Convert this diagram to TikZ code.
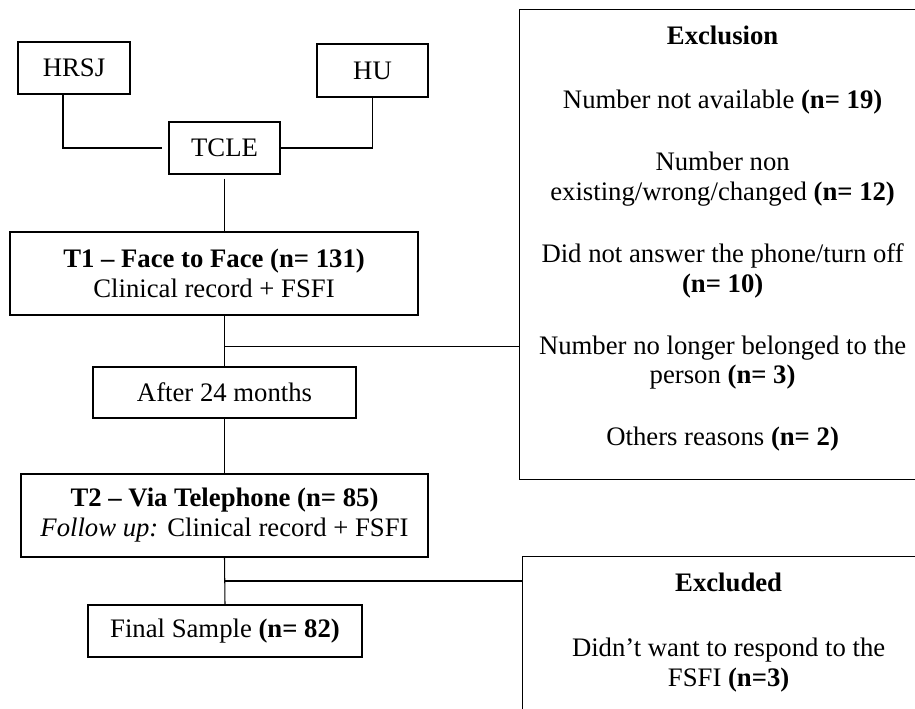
\documentclass[tikz,border=0pt]{standalone}
\usepackage{fontspec}
\setmainfont{Liberation Serif}
\usetikzlibrary{positioning}

\begin{document}
\begin{tikzpicture}[x=0.02cm, y=-0.02cm,
            every node/.style={font=\fontsize{15.2}{17}\selectfont},
            box/.style={draw, line width=0.75pt, inner sep=0pt, align=center},
            step box/.style={box, minimum height=1.04cm},
            side box/.style={box, anchor=north west},
            side text/.style={inner sep=0pt, align=center},
            link/.style={line width=0.6pt}]

            \useasboundingbox (0,0) rectangle (915,709);
            \clip (0,0) rectangle (915,709);

            % Sites and consent
            \node[step box, minimum width=2.24cm] (hrsj) at (74,68) {HRSJ};
            \node[step box, minimum width=2.22cm, minimum height=1.06cm] (hu) at (372.5,70.5) {HU};
            \node[step box, minimum width=2.22cm] (tcle) at (224.5,148) {TCLE};

            % Main flow
            \node[box, minimum width=8.16cm, minimum height=1.66cm] (t1) at (214,273.5)
                {\textbf{T1 -- Face to Face (n= 131)}\\Clinical record + FSFI};
            \node[step box, minimum width=5.26cm, minimum height=1.02cm] (wait24) at (224.5,392.5)
                {After 24 months};
            \node[box, minimum width=8.14cm, minimum height=1.66cm] (t2) at (224.5,515.5)
                {\textbf{T2 -- Via Telephone (n= 85)}\\\textit{Follow up:} Clinical record + FSFI};
            \node[step box, minimum width=5.48cm] (final) at (225,631)
                {Final Sample \textbf{(n= 82)}};

            % Exclusion boxes
            \node[side box, minimum width=8.12cm, minimum height=9.4cm] (exclusion) at (519,9) {};
            \node[side text, below=0.34cm of exclusion.north] (exclusion text) {%
                \textbf{Exclusion}\\[0.68cm]
                Number not available \textbf{(n= 19)}\\[0.64cm]
                Number non\\existing/wrong/changed \textbf{(n= 12)}\\[0.64cm]
                Did not answer the phone/turn off\\\textbf{(n= 10)}\\[0.64cm]
                Number no longer belonged to the\\person \textbf{(n= 3)}\\[0.64cm]
                Others reasons \textbf{(n= 2)}};
            \node[side box, minimum width=8.24cm, minimum height=4cm] (excluded) at (522,556) {};
            \node[side text, below=0.34cm of excluded.north] (excluded text) {%
                \textbf{Excluded}\\[0.7cm]
                Didn't want to respond to the\\FSFI \textbf{(n=3)}};

            % Connectors
            \draw[link] ([xshift=-0.22cm]hrsj.south) |- ([xshift=-0.12cm]tcle.west);
            \draw[link] (hu.south) |- (tcle.east);
            \draw[link] ([yshift=-0.08cm]tcle.south) -- (t1.north -| tcle.south);
            \draw[link] (t1.south -| wait24.north) -- (wait24.north) coordinate[pos=0.6] (split1);
            \draw[link] (split1) -- (split1 -| exclusion.west);
            \draw[link] (wait24.south) -- (wait24.south |- t2.north);
            \draw[link] (t2.south) -- (final.north) coordinate[pos=0.5] (split2);
            \draw[link] (split2) -- (split2 -| excluded.west);
        \end{tikzpicture}
\end{document}
